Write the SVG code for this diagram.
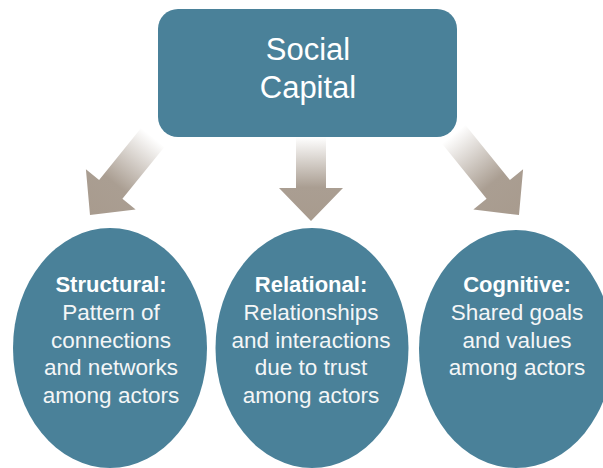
<svg xmlns="http://www.w3.org/2000/svg" width="603" height="468" viewBox="0 0 603 468">
  <style>
    .box { fill: #4a8199; }
    .title { font-family: "Liberation Sans", Arial, sans-serif; font-size: 31px; fill: #ffffff; text-anchor: middle; }
    .head { font-family: "Liberation Sans", Arial, sans-serif; font-size: 22px; font-weight: bold; fill: #ffffff; text-anchor: middle; }
    .body { font-family: "Liberation Sans", Arial, sans-serif; font-size: 22.5px; fill: #f4f6f7; text-anchor: middle; }
    .arrow { fill: url(#fade); }
  </style>
  <defs>
    <!-- shaft fades out towards the source box -->
    <linearGradient id="fade" x1="0" y1="0" x2="0" y2="1">
      <stop offset="0" stop-color="#ffffff"/>
      <stop offset="0.6" stop-color="#aa9e92"/>
      <stop offset="1" stop-color="#a89b8e"/>
    </linearGradient>
  </defs>

  <!-- connectors: block arrows, drawn pointing down with the tip at the origin -->
  <g id="connectors">
    <path class="arrow" transform="translate(90,215) rotate(39)" d="M -15,-100 L 15,-100 L 15,-33 L 32,-33 L 0,0 L -32,-33 L -15,-33 Z"/>
    <path class="arrow" transform="translate(311,221)" d="M -15,-84 L 15,-84 L 15,-33 L 32,-33 L 0,0 L -32,-33 L -15,-33 Z"/>
    <path class="arrow" transform="translate(519,215) rotate(-39)" d="M -15,-104 L 15,-104 L 15,-33 L 32,-33 L 0,0 L -32,-33 L -15,-33 Z"/>
  </g>

  <g id="social-capital">
    <rect class="box" x="158" y="9" width="299" height="128" rx="20" ry="20"/>
    <text class="title" x="308" y="60">Social</text>
    <text class="title" x="308" y="98">Capital</text>
  </g>

  <g id="structural">
    <ellipse class="box" cx="110" cy="348" rx="97" ry="120"/>
    <text class="head" x="111" y="292">Structural:</text>
    <text class="body" x="111" y="319.5">Pattern of</text>
    <text class="body" x="111" y="347.5">connections</text>
    <text class="body" x="111" y="375">and networks</text>
    <text class="body" x="111" y="402.5">among actors</text>
  </g>

  <g id="relational">
    <ellipse class="box" cx="312" cy="348" rx="96.5" ry="120"/>
    <text class="head" x="311" y="292">Relational:</text>
    <text class="body" x="311" y="319.5">Relationships</text>
    <text class="body" x="311" y="347.5">and interactions</text>
    <text class="body" x="311" y="375">due to trust</text>
    <text class="body" x="311" y="402.5">among actors</text>
  </g>

  <g id="cognitive">
    <ellipse class="box" cx="516" cy="349" rx="97" ry="119"/>
    <text class="head" x="517" y="292">Cognitive:</text>
    <text class="body" x="517" y="319.5">Shared goals</text>
    <text class="body" x="517" y="347.5">and values</text>
    <text class="body" x="517" y="375">among actors</text>
  </g>
</svg>
